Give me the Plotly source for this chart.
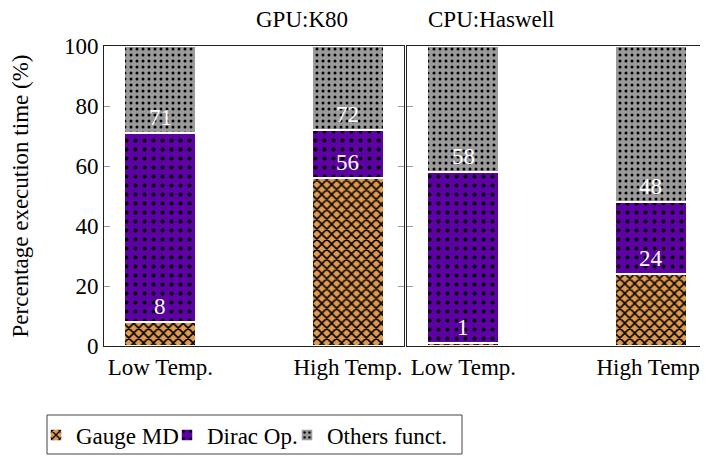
import plotly.graph_objects as go
from plotly.subplots import make_subplots

categories = ["Low Temp.", "High Temp."]
panels = ["GPU:K80", "CPU:Haswell"]
series_names = ["Gauge MD", "Dirac Op.", "Others funct."]
gpu_gauge = [8, 56]
gpu_dirac = [63, 16]
gpu_others = [29, 28]
cpu_gauge = [1, 24]
cpu_dirac = [57, 24]
cpu_others = [42, 52]
y_ticks = [0, 20, 40, 60, 80, 100]

colors = ["#E09A4E", "#5C02A3", "#9A9A9A"]
shapes = ["x", ".", "."]
psizes = [7, 9, 6]
psolid = [0.4, 0.15, 0.2]

FONT = "Liberation Serif"
FS = 23

# the page body has an 8px default margin, so the figure is offset by 8px
W, H = 700, 449
ML, MT, MR, MB = 96, 38, 1, 111
PW = W - ML - MR
PH = H - MT - MB

fig = make_subplots(rows=1, cols=2, shared_yaxes=True, horizontal_spacing=3 / PW)

xpos = list(range(len(categories)))
data = [[gpu_gauge, gpu_dirac, gpu_others], [cpu_gauge, cpu_dirac, cpu_others]]
legend_ids = ["legend", "legend2", "legend3"]

for p, series in enumerate(data):
    for s, vals in enumerate(series):
        fig.add_trace(
            go.Bar(
                x=xpos,
                y=vals,
                name=series_names[s],
                width=0.381,
                marker=dict(
                    color=colors[s],
                    line=dict(color="white", width=1.5),
                    pattern=dict(shape=shapes[s], fgcolor="black", bgcolor=colors[s],
                                 size=psizes[s], solidity=psolid[s], fillmode="replace"),
                ),
                showlegend=(p == 0),
                legend=legend_ids[s],
                legendgroup=series_names[s],
            ),
            row=1, col=p + 1,
        )
    cum1 = series[0]
    cum2 = [a + b for a, b in zip(series[0], series[1])]
    xref = "x" if p == 0 else "x2"
    yref = "y" if p == 0 else "y2"
    for i in xpos:
        for v in (cum1[i], cum2[i]):
            fig.add_annotation(x=i, y=v, xref=xref, yref=yref, text=str(v), showarrow=False,
                               yshift=16, font=dict(family=FONT, size=FS, color="white"))

for p, t in enumerate(panels):
    fig.add_annotation(x=0.2488 if p == 0 else 0.7512, y=1, xref="paper", yref="paper",
                       text=t, showarrow=False, yanchor="middle", yshift=27,
                       font=dict(family=FONT, size=FS, color="black"))

# legend box (screen px -> paper coords; plot left at 104, bottom at 346)
fig.add_shape(type="rect", xref="paper", yref="paper",
              x0=(47 - 104) / PW, x1=(462 - 104) / PW,
              y0=(346 - 454) / PH, y1=(346 - 415) / PH,
              line=dict(color="#444", width=1), fillcolor="rgba(0,0,0,0)")

leg_left = [36, 167, 287]
leg_common = dict(orientation="h", xanchor="left", yanchor="middle", y=(346 - 435) / PH,
                  borderwidth=0, bgcolor="rgba(0,0,0,0)", font=dict(family=FONT, size=FS),
                  itemwidth=30)

fig.update_layout(
    barmode="stack",
    width=W, height=H,
    margin=dict(l=ML, r=MR, t=MT, b=MB, autoexpand=False),
    plot_bgcolor="white", paper_bgcolor="white",
    font=dict(family=FONT, size=FS, color="black"),
    legend=dict(x=(leg_left[0] - 104) / PW, **leg_common),
    legend2=dict(x=(leg_left[1] - 104) / PW, **leg_common),
    legend3=dict(x=(leg_left[2] - 104) / PW, **leg_common),
)

for ax in ["xaxis", "xaxis2"]:
    fig.update_layout(**{ax: dict(tickvals=xpos, ticktext=categories, range=[-0.301, 1.299],
                                  showline=True, linecolor="#222", linewidth=1, mirror=True,
                                  ticks="", showgrid=False, zeroline=False, automargin=False,
                                  ticklabeloverflow="allow",
                                  tickfont=dict(family=FONT, size=FS))})

fig.update_layout(
    yaxis=dict(range=[0, 100], tickvals=y_ticks, showline=True, linecolor="#222", linewidth=1,
               mirror="allticks", ticks="inside", ticklen=6, tickcolor="#999", showgrid=False,
               zeroline=False, automargin=False, tickfont=dict(family=FONT, size=FS),
               title=dict(text="Percentage execution time (%)", font=dict(family=FONT, size=FS), standoff=29)),
    yaxis2=dict(range=[0, 100], tickvals=y_ticks, showline=True, linecolor="#222", linewidth=1,
                mirror="allticks", ticks="inside", ticklen=6, tickcolor="#999", showgrid=False,
                zeroline=False, showticklabels=False, automargin=False),
)

fig.write_html("out.html")
